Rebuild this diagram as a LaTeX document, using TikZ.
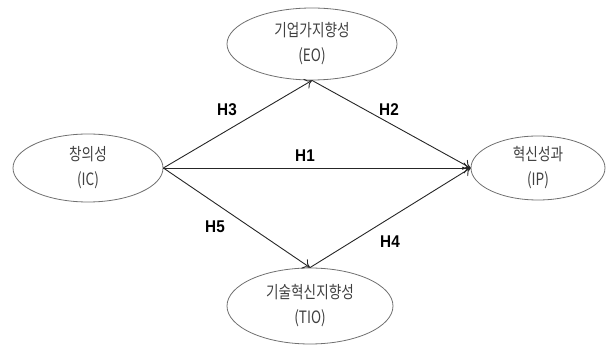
\documentclass[tikz,border=0pt]{standalone}
\usepackage{fontspec}
\newfontfamily\kr[FakeStretch=0.8]{Noto Sans CJK KR}
\newfontfamily\lab[FakeStretch=0.9]{Liberation Sans}
\usetikzlibrary{shapes.geometric,arrows.meta}
\definecolor{txt}{HTML}{404040}
\definecolor{edge}{HTML}{707070}
\begin{document}
\begin{tikzpicture}[x=1pt,y=-1pt,
  var/.style={ellipse,draw=edge,line width=0.8pt,inner sep=0pt,align=center,
    text=txt,font=\kr\fontsize{17}{25}\selectfont},
  conn/.style={draw=black!85,line width=0.9pt,-{To[length=7pt,width=11pt]}},
  hyp/.style={font=\lab\bfseries\fontsize{17}{17}\selectfont,text=black}]
\useasboundingbox (0,0) rectangle (608,347);
\node[var,minimum width=170pt,minimum height=72pt] (eo) at (312,44) {기업가지향성\\(EO)};
\node[var,minimum width=150pt,minimum height=68pt] (ic) at (88,168) {창의성\\(IC)};
\node[var,minimum width=134pt,minimum height=64pt] (ip) at (538,168) {혁신성과\\(IP)};
\node[var,minimum width=166pt,minimum height=76pt] (tio) at (310,306) {기술혁신지향성\\(TIO)};
\draw[conn] (ic.east) -- (eo.south);
\draw[conn] (eo.south) -- (ip.west);
\draw[conn] (ic.east) -- (ip.west);
\draw[conn] (ic.east) -- (tio.north);
\draw[conn] (tio.north) -- (ip.west);
\node[hyp] (h3) at (227,110) {H3};
\node[hyp] (h2) at (389,110) {H2};
\node[hyp] (h1) at (305,156) {H1};
\node[hyp] (h5) at (215,227) {H5};
\node[hyp] (h4) at (390,242) {H4};
\end{tikzpicture}
\end{document}
